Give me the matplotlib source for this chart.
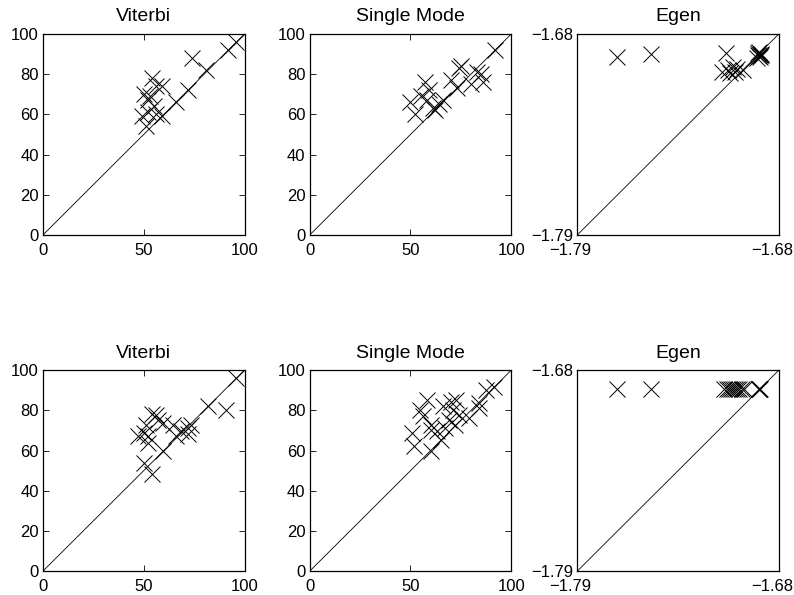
"""Six square scatter panels (Viterbi / Single Mode / Egen), two rows, diagonal reference line."""
import matplotlib
matplotlib.use("Agg")
import matplotlib.pyplot as plt
from matplotlib.transforms import ScaledTranslation

plt.rcParams["font.family"] = ["Liberation Sans", "DejaVu Sans"]

TITLES = ["Viterbi", "Single Mode", "Egen"]

# top row
vit_top_x = [96, 92, 81, 74, 72, 66, 59, 59, 56, 54, 50, 52, 55, 49, 52, 51, 53, 56]
vit_top_y = [96, 92, 82, 88, 72, 66, 59, 74, 74, 78, 70, 67, 64, 59, 61, 54, 69, 60]
sm_top_x = [92, 74, 75, 70, 73, 83, 85, 86, 80, 66, 64, 61, 59, 57, 55, 58, 50, 52, 62]
sm_top_y = [92, 83, 84, 77, 73, 81, 80, 76, 75, 67, 65, 63, 72, 76, 69, 67, 66, 60, 62]
eg_top_x = [-1.7683, -1.7497, -1.7090, -1.7080, -1.7053, -1.7026, -1.6994, -1.7108,
            -1.7040, -1.7065, -1.6915, -1.6908, -1.6900, -1.6912, -1.6905, -1.6898,
            -1.6920, -1.6910, -1.6903]
eg_top_y = [-1.6928, -1.6910, -1.6906, -1.7000, -1.6980, -1.6990, -1.6997, -1.7006,
            -1.7010, -1.7015, -1.6915, -1.6920, -1.6910, -1.6905, -1.6925, -1.6915,
            -1.6930, -1.6900, -1.6918]

# bottom row
vit_bot_x = [96, 82, 91, 54, 56, 59.5, 51, 50, 52, 52, 47, 64.5, 68.5, 66, 72, 73.5, 72,
             59.5, 50, 54, 57]
vit_bot_y = [96, 82, 80, 78, 77.5, 73.5, 72.5, 68.5, 67, 63.5, 67, 72.5, 69.5, 67, 71,
             72.5, 68, 60, 54, 48.5, 75]
sm_bot_x = [91.5, 87.5, 84, 84, 79, 74, 72.5, 70, 66, 71, 69, 67, 65, 60, 58, 54.5, 56,
            60, 63, 50.5, 51.5, 72, 60]
sm_bot_y = [91.5, 90, 83.5, 81, 76, 77.5, 85, 84, 82, 80, 75, 71, 65, 60, 85, 80, 77,
            72.5, 69.5, 68.5, 62.5, 72.5, 70]
eg_bot_x = [-1.7683, -1.7497, -1.7100, -1.7085, -1.7070, -1.7060, -1.7050, -1.7040,
            -1.7030, -1.7015, -1.7000, -1.6990, -1.6910, -1.6908, -1.6906, -1.6904]
eg_bot_y = [-1.6906] * len(eg_bot_x)

ROWS = [
    [(vit_top_x, vit_top_y), (sm_top_x, sm_top_y), (eg_top_x, eg_top_y)],
    [(vit_bot_x, vit_bot_y), (sm_bot_x, sm_bot_y), (eg_bot_x, eg_bot_y)],
]

LIMS = [(0, 100), (0, 100), (-1.79, -1.68)]
XTICKS = [[0, 50, 100], [0, 50, 100], [-1.79, -1.68]]
YTICKS = [[0, 20, 40, 60, 80, 100], [0, 20, 40, 60, 80, 100], [-1.79, -1.68]]
EGEN_LABELS = ["\u22121.79", "\u22121.68"]

fig = plt.figure(figsize=(7.94, 5.95), dpi=100)
lefts = [0.054, 0.390, 0.727]
bottoms = [0.605, 0.040]
w, h = 0.254, 0.338

for r, row in enumerate(ROWS):
    for c, (xs, ys) in enumerate(row):
        ax = fig.add_axes([lefts[c], bottoms[r], w, h])
        lo, hi = LIMS[c]
        ax.plot([lo, hi], [lo, hi], color="black", lw=0.6)
        ax.plot(xs, ys, linestyle="none", marker="x", markersize=11,
                markeredgewidth=0.7, color="black")
        ax.set_xlim(lo, hi)
        ax.set_ylim(lo, hi)
        ax.set_xticks(XTICKS[c])
        ax.set_yticks(YTICKS[c])
        ax.tick_params(direction="in", top=True, right=True, length=4, width=0.6,
                       labelsize=12)
        ax.tick_params(axis="x", pad=5.5)
        ax.tick_params(axis="y", pad=3)
        if c == 2:
            ax.set_xticklabels(EGEN_LABELS)
            ax.set_yticklabels(EGEN_LABELS)
            # matlab puts these a bit left of the tick
            shift = ScaledTranslation(-7 / 100, 0, fig.dpi_scale_trans)
            for tick in ax.xaxis.get_major_ticks():
                tick.label1.set_transform(tick.label1.get_transform() + shift)
        for s in ax.spines.values():
            s.set_linewidth(0.9)
        ax.set_title(TITLES[c], fontsize=14, pad=9)

fig.savefig("out.png", dpi=100)
